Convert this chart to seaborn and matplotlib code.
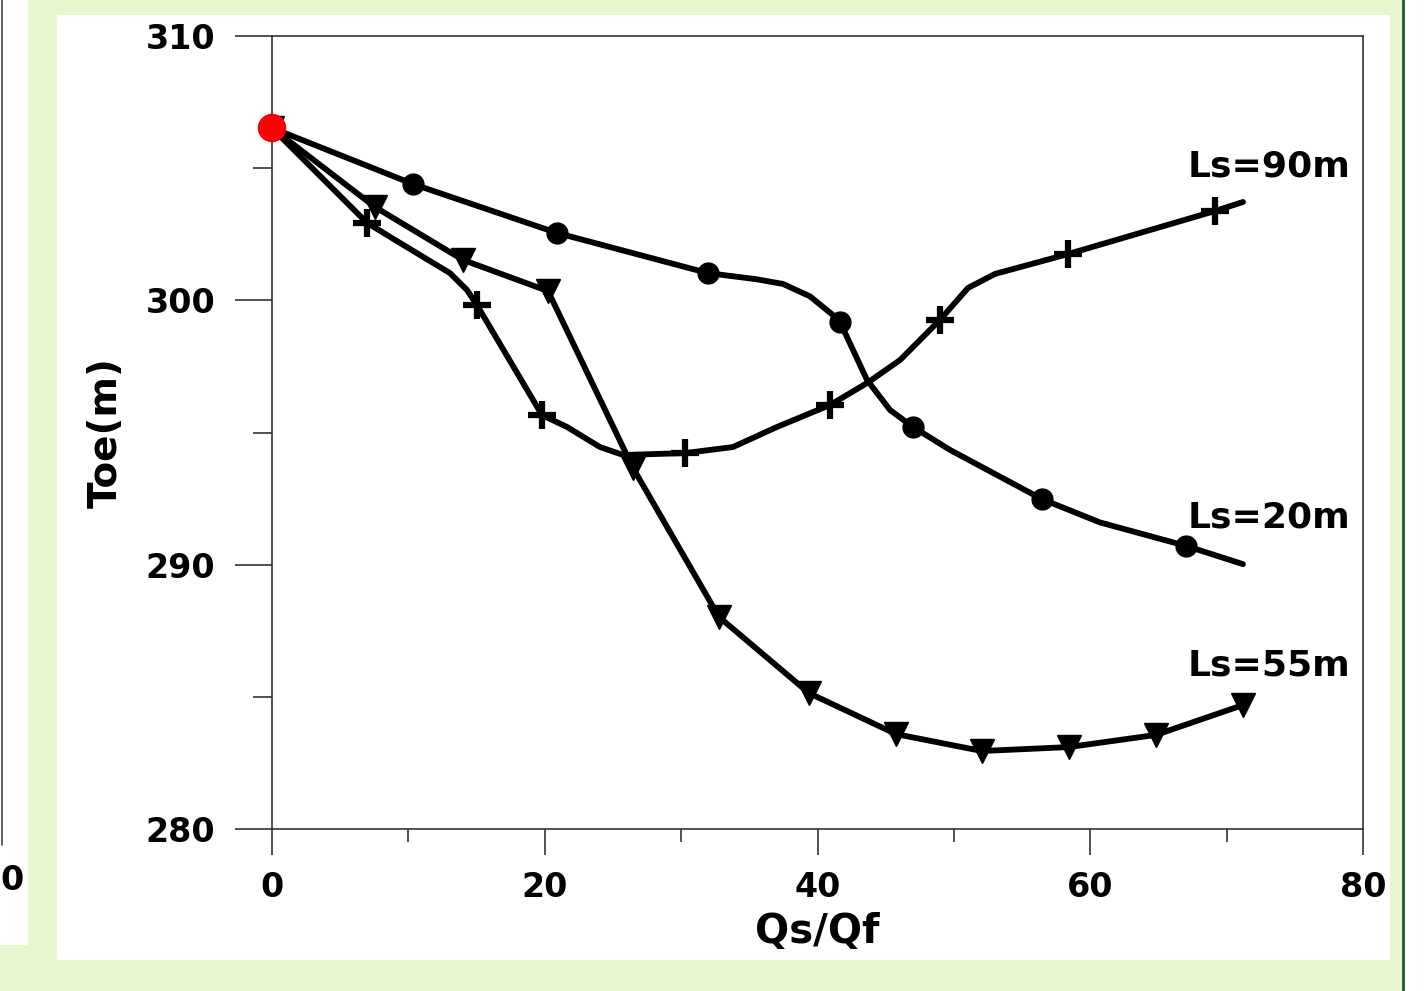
import matplotlib
matplotlib.use('Agg')
import matplotlib.pyplot as plt
from matplotlib.ticker import MultipleLocator
from matplotlib.patches import Rectangle
from matplotlib.lines import Line2D
import seaborn as sns

# Ls=20m: curve, markers at ls20_marks
ls20_x = [0, 10.34, 20.89, 31.97, 35.5, 37.47, 39.45, 41.14, 41.65, 43.63, 45.32, 47.0, 49.72, 56.46, 60.7, 67.02, 71.2]
ls20_y = [306.52, 304.40, 302.55, 301.03, 300.80, 300.62, 300.15, 299.44, 299.18, 296.99, 295.85, 295.21, 294.34, 292.48, 291.6, 290.71, 290.02]
ls20_marks = [1, 2, 3, 8, 11, 13, 15]

# Ls=90m
ls90_x = [0, 6.97, 9.39, 13.05, 14.30, 15.03, 19.80, 21.63, 24.05, 25.74, 30.28, 33.80, 37.03, 40.92, 43.63, 46.05, 48.98, 51.04, 53.02, 58.37, 69.15, 71.2]
ls90_y = [306.52, 302.93, 302.17, 301.03, 300.39, 299.82, 295.66, 295.21, 294.45, 294.15, 294.22, 294.45, 295.21, 296.04, 296.87, 297.74, 299.26, 300.47, 301.0, 301.75, 303.38, 303.72]
ls90_marks = [0, 1, 5, 6, 10, 13, 16, 19, 20]

# Ls=55m
ls55_x = [0, 7.55, 14.0, 20.24, 26.47, 32.78, 39.38, 45.76, 52.06, 58.44, 64.82, 71.2]
ls55_y = [306.52, 303.53, 301.53, 300.35, 293.66, 288.02, 285.14, 283.59, 282.95, 283.10, 283.56, 284.69]
ls55_marks = [0, 1, 2, 3, 4, 5, 6, 7, 8, 9, 10, 11]

start_x = [0]
start_y = [306.52]

labels = ['Ls=90m', 'Ls=20m', 'Ls=55m']
label_x = [79.1, 79.1, 79.1]
label_y = [304.67, 291.42, 285.82]

x_ticks = [0, 20, 40, 60, 80]
y_ticks = [280, 290, 300, 310]

sns.set_style('white')
plt.rcParams['font.family'] = ['DejaVu Sans']
plt.rcParams['text.color'] = 'black'
plt.rcParams['xtick.color'] = 'black'
plt.rcParams['ytick.color'] = 'black'
plt.rcParams['axes.labelcolor'] = 'black'

green_bg = '#e8f6d0'
fig = plt.figure(figsize=(14.27, 9.91), dpi=100, facecolor=green_bg)

# slide panels behind the chart
fig.add_artist(Rectangle((57 / 1427, 1 - 960 / 991), (1390 - 57) / 1427, (960 - 15) / 991,
                         transform=fig.transFigure, facecolor='white', edgecolor='none', zorder=0))
fig.add_artist(Rectangle((0, 1 - 945 / 991), 28 / 1427, 945 / 991,
                         transform=fig.transFigure, facecolor='white', edgecolor='none', zorder=0))
fig.add_artist(Rectangle((1405 / 1427, 0), 22 / 1427, 1,
                         transform=fig.transFigure, facecolor='white', edgecolor='none', zorder=0))
fig.add_artist(Line2D([2 / 1427, 2 / 1427], [1 - 845 / 991, 1], transform=fig.transFigure,
                      color='#444444', lw=1.2))
fig.add_artist(Line2D([1403 / 1427, 1403 / 1427], [0, 1], transform=fig.transFigure,
                      color='#1a5c36', lw=2))
fig.text(12 / 1427, 1 - 880 / 991, '0', fontsize=24, fontweight='bold', ha='center', va='center')

ax = fig.add_axes([272 / 1427, 1 - 829 / 991, (1363 - 272) / 1427, (829 - 36) / 991])
ax.set_facecolor('white')

common = dict(sort=False, estimator=None, color='black', lw=4.2, ax=ax, legend=False)
sns.lineplot(x=ls20_x, y=ls20_y, marker='o', markersize=15, markevery=ls20_marks,
             mec='black', mfc='black', mew=1, **common)
sns.lineplot(x=ls90_x, y=ls90_y, marker='+', markersize=20, markevery=ls90_marks,
             mec='black', mew=4.5, **common)
sns.lineplot(x=ls55_x, y=ls55_y, marker='v', markersize=17, markevery=ls55_marks,
             mec='black', mfc='black', mew=1, **common)
sns.scatterplot(x=start_x, y=start_y, color='red', s=420, edgecolor='none', zorder=10,
                clip_on=False, ax=ax)

for t, tx, ty in zip(labels, label_x, label_y):
    ax.text(tx, ty, t, fontsize=26, fontweight='bold', ha='right', va='baseline')

ax.set_xlim(0, 80)
ax.set_ylim(280, 310)
ax.set_xticks(x_ticks)
ax.set_yticks(y_ticks)
ax.xaxis.set_minor_locator(MultipleLocator(10))
ax.yaxis.set_minor_locator(MultipleLocator(5))
ax.tick_params(axis='both', which='both', direction='out', color='#333333', width=1.2,
               labelsize=24, bottom=True, left=True, top=False, right=False)
ax.tick_params(axis='x', which='major', length=19, pad=11)
ax.tick_params(axis='x', which='minor', length=9.5)
ax.tick_params(axis='y', which='major', length=27, pad=14)
ax.tick_params(axis='y', which='minor', length=14)
for lab in ax.get_xticklabels() + ax.get_yticklabels():
    lab.set_fontweight('bold')
for s in ax.spines.values():
    s.set_color('#333333')
    s.set_linewidth(1.2)

ax.set_xlabel('Qs/Qf', fontsize=29, fontweight='bold')
ax.set_ylabel('Toe(m)', fontsize=28, fontweight='bold')
ax.xaxis.set_label_coords(0.5, -0.105)
ax.yaxis.set_label_coords(-0.135, 0.5)

fig.savefig('out.png', dpi=100, facecolor=green_bg)
